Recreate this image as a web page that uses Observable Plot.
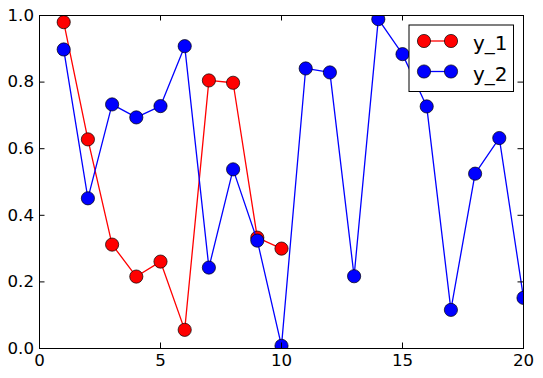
<!DOCTYPE html>
<html>
<head>
<meta charset="utf-8">
<script src="https://cdn.jsdelivr.net/npm/d3@7"></script>
<script src="https://cdn.jsdelivr.net/npm/@observablehq/plot@0.6"></script>
<style>
  html, body { margin: 0; padding: 0; background: #fff; }
  #chart { width: 543px; height: 378px; }
</style>
</head>
<body>
<div id="chart"></div>
<script>
const xValues = [1,2,3,4,5,6,7,8,9,10,11,12,13,14,15,16,17,18,19,20];
const seriesNames = ["y_1", "y_2"];
const seriesColors = ["#ff0000", "#0000ff"];
const y1Values = [0.980, 0.628, 0.312, 0.216, 0.261, 0.056, 0.805, 0.798, 0.333, 0.300];
const y2Values = [0.898, 0.451, 0.733, 0.694, 0.728, 0.908, 0.243, 0.538, 0.324, 0.008,
                  0.841, 0.829, 0.217, 0.989, 0.884, 0.727, 0.116, 0.525, 0.632, 0.152];
const xTicks = [0, 5, 10, 15, 20];
const yTicks = [0.0, 0.2, 0.4, 0.6, 0.8, 1.0];

const d1 = y1Values.map((v, i) => ({x: xValues[i], y: v}));
const d2 = y2Values.map((v, i) => ({x: xValues[i], y: v}));

const W = 543, H = 378;
const mL = 39, mR = 20, mT = 15, mB = 30;
const innerW = W - mL - mR, innerH = H - mT - mB;
const tickLen = 5.5;
const font = "DejaVu Sans";

function legend(index, scales, values, dims) {
  const right = dims.width - dims.marginRight;
  const top = dims.marginTop;
  const g = d3.create("svg:g");
  const bx0 = right - 114, bx1 = right - 9.5, by0 = top + 10, by1 = top + 76.5;
  g.append("rect").attr("x", bx0).attr("y", by0).attr("width", bx1 - bx0).attr("height", by1 - by0)
    .attr("fill", "white").attr("stroke", "black").attr("stroke-width", 1);
  seriesNames.forEach((name, i) => {
    const y = top + 26 + i * 30.5;
    const xa = right - 99, xb = right - 72;
    g.append("line").attr("x1", xa).attr("x2", xb).attr("y1", y).attr("y2", y)
      .attr("stroke", seriesColors[i]).attr("stroke-width", 1.3);
    [xa, xb].forEach(cx => g.append("circle").attr("cx", cx).attr("cy", y).attr("r", 6.6)
      .attr("fill", seriesColors[i]).attr("stroke", "black").attr("stroke-width", 0.7));
    g.append("text").attr("x", right - 50).attr("y", y + 9)
      .attr("text-anchor", "start")
      .attr("font-family", font).attr("font-size", "20px").attr("fill", "black").text(name);
  });
  return g.node();
}

const chart = Plot.plot({
  width: W,
  height: H,
  marginLeft: mL,
  marginRight: mR,
  marginTop: mT,
  marginBottom: mB,
  style: {fontFamily: font, fontSize: "16.67px", background: "white", color: "black"},
  x: {domain: [0, 20]},
  y: {domain: [0, 1]},
  marks: [
    Plot.line(d1, {x: "x", y: "y", stroke: seriesColors[0], strokeWidth: 1.3, clip: "frame"}),
    Plot.dot(d1, {x: "x", y: "y", r: 6.6, fill: seriesColors[0], stroke: "black", strokeWidth: 0.7, clip: "frame"}),
    Plot.line(d2, {x: "x", y: "y", stroke: seriesColors[1], strokeWidth: 1.3, clip: "frame"}),
    Plot.dot(d2, {x: "x", y: "y", r: 6.6, fill: seriesColors[1], stroke: "black", strokeWidth: 0.7, clip: "frame"}),
    Plot.tickX(xTicks, {x: d => d, insetTop: innerH - tickLen, stroke: "black"}),
    Plot.tickX(xTicks, {x: d => d, insetBottom: innerH - tickLen, stroke: "black"}),
    Plot.tickY(yTicks, {y: d => d, insetRight: innerW - tickLen, stroke: "black"}),
    Plot.tickY(yTicks, {y: d => d, insetLeft: innerW - tickLen, stroke: "black"}),
    Plot.axisX({ticks: xTicks, tickSize: 0, tickPadding: 5.5, tickFormat: d => String(d), label: null}),
    Plot.axisY({ticks: yTicks, tickSize: 0, tickPadding: 5.5, tickFormat: d3.format(".1f"), label: null}),
    Plot.frame({stroke: "black", strokeWidth: 1}),
    legend
  ]
});
document.getElementById("chart").appendChild(chart);
</script>
</body>
</html>
